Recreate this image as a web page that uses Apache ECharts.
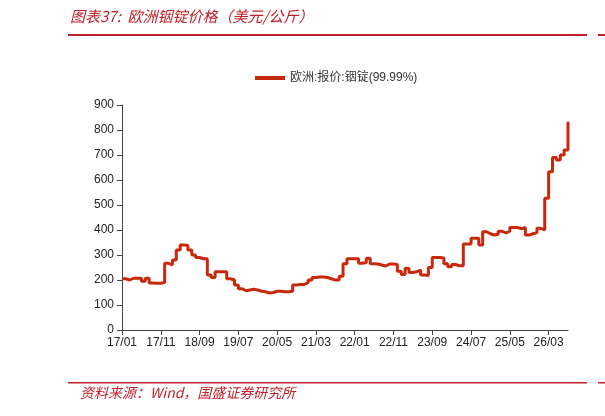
<!DOCTYPE html>
<html>
<head>
<meta charset="utf-8">
<script src="https://cdn.jsdelivr.net/npm/echarts@6/dist/echarts.min.js"></script>
<style>
  html, body { margin: 0; padding: 0; background: #fff; }
  #chart { width: 605px; height: 416px; }
</style>
</head>
<body>
<div id="chart"></div>
<script>
// monthly, 2017/01 .. 2026/08
var startYear = 2017;
var prices = [
  205, 200, 207, 207, 207, 195, 207, 188, 187, 187, 190,
  267, 260, 280, 320, 340, 338, 320, 300, 290, 285,
  285, 220, 210, 233, 233, 233, 205, 200, 180, 165,
  157, 160, 163, 160, 155, 153, 148, 150, 155, 155,
  153, 153, 155, 180, 182, 182, 190, 200, 210, 212,
  212, 210, 205, 200, 200, 215, 265, 285, 285, 285,
  267, 270, 287, 265, 264, 260, 256, 264, 264, 262,
  235, 222, 247, 230, 233, 240, 220, 218, 250, 290,
  290, 288, 265, 253, 262, 257, 257, 344, 344, 367,
  367, 340, 393, 385, 380, 383, 395, 388, 395, 410,
  410, 405, 410, 380, 385, 390, 407, 400, 527,
  633, 690, 680, 700, 720, 833
];
var months = [];
for (var i = 0; i < prices.length; i++) {
    var y = startYear + Math.floor(i / 12);
    var m = i % 12 + 1;
    months.push(String(y).slice(2) + '/' + (m < 10 ? '0' + m : m));
}
var yTicks = { min: 0, max: 900, interval: 100 };
var seriesName = '欧洲:报价:铟锭(99.99%)';

var chart = echarts.init(document.getElementById('chart'));
chart.setOption({
    animation: false,
    textStyle: { fontFamily: 'Arial, "Noto Sans CJK SC", sans-serif' },
    graphic: [
        { type: 'text', left: 70, top: 9, style: { text: '图表37:  欧洲铟锭价格（美元/公斤）', fill: '#c0202a', font: 'italic 15px "Noto Sans CJK SC", sans-serif' } },
        { type: 'rect', shape: { x: 68, y: 34, width: 519, height: 2 }, style: { fill: '#c0202a' } },
        { type: 'rect', shape: { x: 598, y: 34, width: 7, height: 2 }, style: { fill: '#c0202a' } },
        { type: 'rect', shape: { x: 68, y: 382, width: 519, height: 1.5 }, style: { fill: '#c0202a' } },
        { type: 'rect', shape: { x: 598, y: 382, width: 7, height: 1.5 }, style: { fill: '#c0202a' } },
        { type: 'text', left: 80, top: 386, style: { text: '资料来源：Wind，国盛证券研究所', fill: '#c0202a', font: 'italic 14px "Noto Sans CJK SC", sans-serif' } }
    ],
    legend: {
        top: 67, left: 250,
        itemWidth: 30, itemHeight: 4,
        icon: 'rect',
        textStyle: { fontSize: 12, color: '#333' },
        data: [seriesName]
    },
    grid: { left: 122, right: 37, top: 105, bottom: 86 },
    xAxis: {
        type: 'category',
        data: months,
        boundaryGap: false,
        axisLine: { lineStyle: { color: '#444' } },
        axisTick: { interval: 9, lineStyle: { color: '#444' } },
        axisLabel: { interval: 9, color: '#222', fontSize: 12, margin: 7 },
        splitLine: { show: false }
    },
    yAxis: {
        type: 'value',
        min: yTicks.min, max: yTicks.max, interval: yTicks.interval,
        axisLine: { show: true, lineStyle: { color: '#444' } },
        axisTick: { show: true, lineStyle: { color: '#444' } },
        axisLabel: { color: '#222', fontSize: 12 },
        splitLine: { show: false }
    },
    series: [{
        name: seriesName,
        type: 'line',
        step: 'end',
        data: prices,
        showSymbol: false,
        lineStyle: { color: '#c8280c', width: 3 },
        itemStyle: { color: '#c8280c' }
    }]
});
</script>
</body>
</html>
